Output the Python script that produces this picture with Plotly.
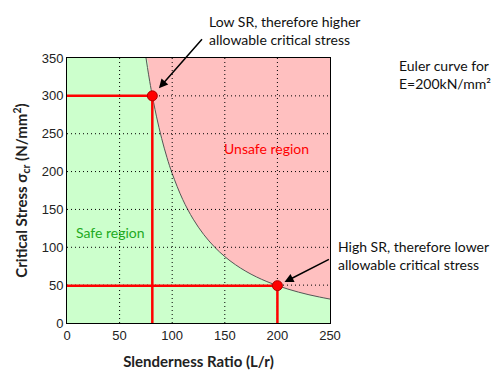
import plotly.graph_objects as go

# Euler curve points (slenderness ratio, critical stress)
curve_sr = [75.1, 77.5, 80, 85, 90, 95, 100, 110, 120, 130, 140, 150, 160, 170,
            180, 190, 200, 210, 220, 230, 240, 250]
curve_stress = [350, 328.6, 308.4, 273.2, 243.7, 218.7, 197.4, 163.1, 137.1, 116.8,
                100.7, 87.7, 77.1, 68.3, 60.9, 54.7, 49.3, 44.8, 40.8, 37.3, 34.3, 31.6]

# highlighted points
pts_sr = [81.1, 200]
pts_stress = [300, 49.3]

x_ticks = [0, 50, 100, 150, 200, 250]
y_ticks = [0, 50, 100, 150, 200, 250, 300, 350]
x_max, y_max = 250, 350

GREEN = "#ccffcc"
PINK = "#ffc0c0"
RED = "#ff0000"

fig = go.Figure()

# safe region fill (below the curve)
fig.add_trace(go.Scatter(
    x=[0] + curve_sr, y=[y_max] + curve_stress, mode="lines",
    line=dict(width=0, shape="spline"), fill="tozeroy", fillcolor=GREEN,
    hoverinfo="skip", showlegend=False))

# Euler curve
fig.add_trace(go.Scatter(
    x=curve_sr, y=curve_stress, mode="lines",
    line=dict(color="#555555", width=1, shape="spline"),
    showlegend=False))

# dotted grid lines
for xv in x_ticks[1:-1]:
    fig.add_trace(go.Scatter(x=[xv, xv], y=[0, y_max], mode="lines",
                             line=dict(color="black", width=1, dash="1px,3px"),
                             hoverinfo="skip", showlegend=False))
for yv in y_ticks[1:-1]:
    fig.add_trace(go.Scatter(x=[0, x_max], y=[yv, yv], mode="lines",
                             line=dict(color="black", width=1, dash="1px,3px"),
                             hoverinfo="skip", showlegend=False))

# red guide lines
for sx, sy in zip(pts_sr, pts_stress):
    fig.add_trace(go.Scatter(x=[0, sx, sx], y=[sy, sy, 0], mode="lines",
                             line=dict(color=RED, width=2.5),
                             hoverinfo="skip", showlegend=False))

# markers
fig.add_trace(go.Scatter(x=pts_sr, y=pts_stress, mode="markers",
                         marker=dict(color=RED, size=10, line=dict(color="#b00000", width=1)),
                         showlegend=False))

txt_font = dict(family="Lato, sans-serif", size=14, color="#111111")

annotations = [
    # arrows
    dict(x=pts_sr[0], y=pts_stress[0], xref="x", yref="y", ax=51, ay=-58,
         axref="pixel", ayref="pixel", text="", showarrow=True, arrowhead=2,
         arrowsize=1.2, arrowwidth=1.5, arrowcolor="black", standoff=10),
    dict(x=pts_sr[1], y=pts_stress[1], xref="x", yref="y", ax=53, ay=-27,
         axref="pixel", ayref="pixel", text="", showarrow=True, arrowhead=2,
         arrowsize=1.2, arrowwidth=1.5, arrowcolor="black", standoff=8),
    # texts
    dict(x=207 / 500, y=1 - 11 / 382, xref="paper", yref="paper", xanchor="left",
         yanchor="top", align="left", showarrow=False, font=txt_font,
         text="Low SR, therefore higher<br>allowable critical stress"),
    dict(x=336 / 500, y=1 - 236 / 382, xref="paper", yref="paper", xanchor="left",
         yanchor="top", align="left", showarrow=False, font=txt_font,
         text="High SR, therefore lower<br>allowable critical stress"),
    dict(x=397 / 500, y=1 - 55 / 382, xref="paper", yref="paper", xanchor="left",
         yanchor="top", align="left", showarrow=False, font=txt_font,
         text="Euler curve for<br>E=200kN/mm²"),
    dict(x=222 / 500, y=1 - 148 / 382, xref="paper", yref="paper", xanchor="left",
         yanchor="middle", showarrow=False,
         font=dict(family="Lato, sans-serif", size=14, color=RED),
         text="Unsafe region"),
    dict(x=74 / 500, y=1 - 233 / 382, xref="paper", yref="paper", xanchor="left",
         yanchor="middle", showarrow=False,
         font=dict(family="Lato, sans-serif", size=14, color="#22aa22"),
         text="Safe region"),
]

# convert whole-figure fractions into plot-area paper coords
L, R, T, B = 67, 170, 58, 59
W, H = 500, 382
for a in annotations:
    if a.get("xref") == "paper":
        px = a["x"] * W
        py = (1 - a["y"]) * H
        a["x"] = (px - L) / (W - L - R)
        a["y"] = 1 - (py - T) / (H - T - B)

fig.update_layout(
    width=W, height=H,
    margin=dict(l=L, r=R, t=T, b=B, autoexpand=False),
    paper_bgcolor="white", plot_bgcolor=PINK,
    annotations=annotations,
    xaxis=dict(range=[0, x_max], tickvals=x_ticks, showgrid=False, zeroline=False,
               showline=True, linecolor="black", linewidth=1, mirror=True,
               automargin=False,
               ticks="", tickfont=dict(family="Liberation Sans", size=13, color="#222"),
               title=dict(text="<b>Slenderness Ratio (L/r)</b>", standoff=14,
                          font=dict(family="Lato, sans-serif", size=15, color="#222"))),
    yaxis=dict(range=[0, y_max], tickvals=y_ticks, showgrid=False, zeroline=False,
               showline=True, linecolor="black", linewidth=1, mirror=True,
               automargin=False,
               ticks="", tickfont=dict(family="Liberation Sans", size=13, color="#222"),
               title=dict(text="<b>Critical Stress σ<sub>cr</sub> (N/mm<sup>2</sup>)</b>",
                          standoff=10,
                          font=dict(family="Lato, sans-serif", size=15, color="#222"))),
)

fig.write_html("out.html", config={"displayModeBar": False},
               post_script="document.body.style.margin='0';")
